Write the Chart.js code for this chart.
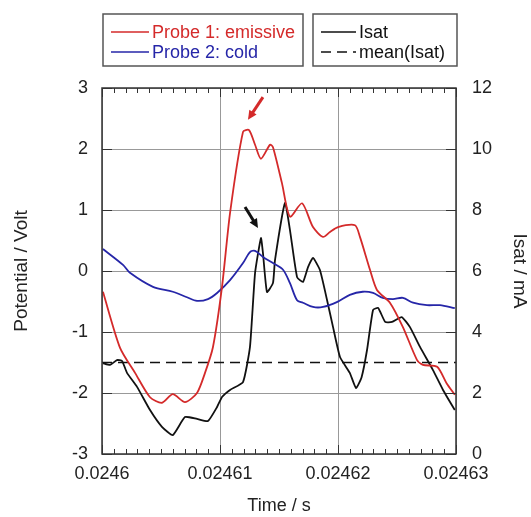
<!DOCTYPE html>
<html>
<head>
<meta charset="utf-8">
<script src="https://cdn.jsdelivr.net/npm/chart.js@4"></script>
<style>
  body { margin: 0; background: #fff; }
  canvas { display: block; }
</style>
</head>
<body>
<canvas id="probeChart" width="531" height="517"></canvas>
<script>
// time axis in seconds
const timeTicks = [0.0246, 0.02461, 0.02462, 0.02463];

// Probe 1 (emissive), potential in volts
const redTime = [
  0.02460008, 0.02460153, 0.0246028, 0.02460407, 0.02460508, 0.024606,
  0.02460703, 0.02460805, 0.02460873, 0.0246094, 0.02461017, 0.02461085,
  0.02461195, 0.02461246, 0.02461297, 0.02461347, 0.02461424, 0.02461449,
  0.02461525, 0.02461593, 0.02461695, 0.02461788, 0.02461873, 0.02461932,
  0.02462, 0.02462144, 0.02462186, 0.02462271, 0.0246233, 0.0246244,
  0.0246255, 0.0246267, 0.0246272, 0.0246284, 0.0246292, 0.0246299,
];
const redVolt = [
  -0.34, -1.26, -1.67, -2.07, -2.16, -2.02,
  -2.15, -2.0, -1.67, -1.25, -0.26, 0.95,
  2.28, 2.31, 2.07, 1.84, 2.07, 2.03,
  1.44, 0.89, 1.11, 0.72, 0.56, 0.64,
  0.72, 0.75, 0.56, 0.02, -0.31, -0.52,
  -0.92, -1.46, -1.54, -1.57, -1.84, -2.03,
];

// Probe 2 (cold), potential in volts
const blueTime = [
  0.02460008, 0.02460178, 0.02460237, 0.02460432, 0.024606, 0.0246072,
  0.02460805, 0.02460898, 0.02460975, 0.02461085, 0.02461195, 0.02461254,
  0.02461297, 0.02461364, 0.02461449, 0.02461534, 0.02461593, 0.02461653,
  0.02461703, 0.02461788, 0.02461873, 0.0246199, 0.024621, 0.0246221,
  0.02462297, 0.0246238, 0.02462466, 0.0246255, 0.02462636, 0.02462754,
  0.02462864, 0.0246299,
];
const blueVolt = [
  0.36, 0.1, -0.03, -0.26, -0.34, -0.43,
  -0.49, -0.46, -0.36, -0.15, 0.13, 0.31,
  0.33, 0.23, 0.13, 0.02, -0.2, -0.48,
  -0.52, -0.59, -0.59, -0.51, -0.39, -0.34,
  -0.36, -0.44, -0.46, -0.44, -0.52, -0.56,
  -0.56, -0.61,
];

// ion saturation current in mA
const isatTime = [
  0.02460008, 0.02460068, 0.02460127, 0.0246017, 0.02460212, 0.02460297,
  0.02460407, 0.02460508, 0.024606, 0.02460703, 0.02460805, 0.02460898,
  0.02460975, 0.02461017, 0.02461085, 0.02461195, 0.02461254, 0.02461297,
  0.02461347, 0.02461364, 0.02461398, 0.02461449, 0.02461466, 0.02461551,
  0.02461593, 0.02461653, 0.02461703, 0.02461746, 0.02461788, 0.02461847,
  0.02461907, 0.02461958, 0.02462017, 0.024621, 0.02462153, 0.024622,
  0.02462246, 0.02462297, 0.0246234, 0.024624, 0.02462458, 0.0246254,
  0.0246261, 0.02462695, 0.02462805, 0.0246289, 0.0246299,
];
const isatValue = [
  2.98, 2.92, 3.08, 3.05, 2.66, 2.2,
  1.44, 0.89, 0.62, 1.21, 1.15, 1.08,
  1.54, 1.87, 2.1, 2.36, 3.51, 5.93,
  7.08, 6.59, 5.31, 5.61, 6.36, 8.23,
  7.34, 5.8, 5.64, 6.13, 6.43, 6.03,
  5.05, 4.16, 3.18, 2.66, 2.16, 2.52,
  3.41, 4.72, 4.79, 4.33, 4.33, 4.49,
  4.16, 3.51, 2.75, 2.1, 1.44,
];
const isatMean = 3.0;

// arrows: [tailX, tailY, headX, headY]
const redArrow = [0.02461364, 2.85, 0.02461237, 2.48];
const blackArrow = [0.02461212, 8.1, 0.02461322, 7.41];

const RED = "#d42a2a";
const BLUE = "#2626a8";
const BLACK = "#111";
const FONT = "'Liberation Sans', Arial, sans-serif";

function pairs(xs, ys) {
  return xs.map((x, i) => ({ x: x, y: ys[i] }));
}

function drawArrow(ctx, x1, y1, x2, y2, color) {
  const ang = Math.atan2(y2 - y1, x2 - x1);
  const head = 10;
  ctx.save();
  ctx.strokeStyle = color;
  ctx.fillStyle = color;
  ctx.lineWidth = 3;
  ctx.beginPath();
  ctx.moveTo(x1, y1);
  ctx.lineTo(x2 - Math.cos(ang) * head * 0.7, y2 - Math.sin(ang) * head * 0.7);
  ctx.stroke();
  ctx.beginPath();
  ctx.moveTo(x2, y2);
  ctx.lineTo(x2 - head * Math.cos(ang - 0.45), y2 - head * Math.sin(ang - 0.45));
  ctx.lineTo(x2 - head * Math.cos(ang + 0.45), y2 - head * Math.sin(ang + 0.45));
  ctx.closePath();
  ctx.fill();
  ctx.restore();
}

const decorPlugin = {
  id: "decor",
  afterDatasetsDraw(chart) {
    const { ctx, chartArea: a, scales } = chart;
    const x = scales.x, y = scales.y, y2 = scales.y2;

    // frame
    ctx.save();
    ctx.strokeStyle = "#333";
    ctx.lineWidth = 1.5;
    ctx.strokeRect(a.left, a.top, a.right - a.left, a.bottom - a.top);

    // inward ticks
    ctx.lineWidth = 1;
    ctx.beginPath();
    for (let i = 0; i <= 30; i++) {
      const px = Math.round(x.getPixelForValue(0.0246 + i * 1e-6)) + 0.5;
      const len = i % 10 === 0 ? 9 : 5;
      ctx.moveTo(px, a.bottom);
      ctx.lineTo(px, a.bottom - len);
      ctx.moveTo(px, a.top);
      ctx.lineTo(px, a.top + len);
    }
    y.ticks.forEach((t) => {
      const py = Math.round(y.getPixelForValue(t.value)) + 0.5;
      ctx.moveTo(a.left, py);
      ctx.lineTo(a.left + 10, py);
    });
    y2.ticks.forEach((t) => {
      const py = Math.round(y2.getPixelForValue(t.value)) + 0.5;
      ctx.moveTo(a.right, py);
      ctx.lineTo(a.right - 10, py);
    });
    ctx.stroke();
    ctx.restore();

    // arrows
    drawArrow(ctx,
      x.getPixelForValue(redArrow[0]), y.getPixelForValue(redArrow[1]),
      x.getPixelForValue(redArrow[2]), y.getPixelForValue(redArrow[3]), RED);
    drawArrow(ctx,
      x.getPixelForValue(blackArrow[0]), y2.getPixelForValue(blackArrow[1]),
      x.getPixelForValue(blackArrow[2]), y2.getPixelForValue(blackArrow[3]), BLACK);

    // two legend boxes
    const ds = chart.data.datasets;
    const boxes = [
      { x: 103, w: 200, items: [ds[0], ds[1]], lineLen: 38, textColor: true },
      { x: 313, w: 144, items: [ds[2], ds[3]], lineLen: 35, textColor: false },
    ];
    ctx.save();
    ctx.font = "18px " + FONT;
    ctx.textBaseline = "middle";
    boxes.forEach((b) => {
      ctx.strokeStyle = "#555";
      ctx.lineWidth = 1.5;
      ctx.strokeRect(b.x, 14, b.w, 52);
      b.items.forEach((d, i) => {
        const ly = 32 + i * 20;
        ctx.strokeStyle = d.borderColor;
        ctx.lineWidth = 1.5;
        ctx.setLineDash(d.borderDash || []);
        ctx.beginPath();
        ctx.moveTo(b.x + 8, ly);
        ctx.lineTo(b.x + 8 + b.lineLen, ly);
        ctx.stroke();
        ctx.setLineDash([]);
        ctx.fillStyle = b.textColor ? d.borderColor : BLACK;
        ctx.fillText(d.label, b.x + 11 + b.lineLen, ly + 1);
      });
    });
    ctx.restore();
  },
};

const tickFont = { family: FONT, size: 18 };
const yTitleFont = { family: FONT, size: 19 };

new Chart(document.getElementById("probeChart"), {
  type: "line",
  data: {
    datasets: [
      {
        label: "Probe 1: emissive",
        data: pairs(redTime, redVolt),
        borderColor: RED,
        borderWidth: 1.8,
        tension: 0.25,
        yAxisID: "y",
      },
      {
        label: "Probe 2: cold",
        data: pairs(blueTime, blueVolt),
        borderColor: BLUE,
        borderWidth: 1.8,
        tension: 0.3,
        yAxisID: "y",
      },
      {
        label: "Isat",
        data: pairs(isatTime, isatValue),
        borderColor: BLACK,
        borderWidth: 1.8,
        tension: 0.15,
        yAxisID: "y2",
      },
      {
        label: "mean(Isat)",
        data: pairs([timeTicks[0], timeTicks[3]], [isatMean, isatMean]),
        borderColor: BLACK,
        borderWidth: 1.5,
        borderDash: [10, 6],
        yAxisID: "y2",
      },
    ],
  },
  options: {
    responsive: false,
    animation: false,
    devicePixelRatio: 1,
    layout: { padding: { top: 88 } },
    elements: { point: { radius: 0 } },
    plugins: { legend: { display: false }, tooltip: { enabled: false } },
    scales: {
      x: {
        type: "linear",
        min: timeTicks[0],
        max: timeTicks[3],
        afterFit: (s) => { s.height = 63; },
        afterBuildTicks: (s) => { s.ticks = timeTicks.map((v) => ({ value: v })); },
        ticks: {
          font: tickFont,
          color: "#222",
          padding: 9,
          maxRotation: 0,
          autoSkip: false,
          callback: (v) => String(Number(v.toFixed(5))),
        },
        grid: { color: "#999", drawTicks: false },
        border: { display: false },
        title: {
          display: true,
          text: "Time / s",
          font: tickFont,
          color: "#222",
          padding: { top: 0, bottom: 0 },
        },
      },
      y: {
        position: "left",
        min: -3,
        max: 3,
        afterFit: (s) => { s.width = 102; },
        ticks: { stepSize: 1, font: tickFont, color: "#222", padding: 14 },
        grid: { color: "#999", drawTicks: false },
        border: { display: false },
        title: {
          display: true,
          text: "Potential / Volt",
          font: yTitleFont,
          color: "#222",
          padding: { top: 10, bottom: 0 },
        },
      },
      y2: {
        position: "right",
        min: 0,
        max: 12,
        afterFit: (s) => { s.width = 75; },
        ticks: { stepSize: 2, font: tickFont, color: "#222", padding: 16 },
        grid: { display: false, drawTicks: false },
        border: { display: false },
        title: {
          display: true,
          text: "Isat / mA",
          font: yTitleFont,
          color: "#222",
          padding: { top: 0, bottom: 0 },
        },
      },
    },
  },
  plugins: [decorPlugin],
});
</script>
</body>
</html>
